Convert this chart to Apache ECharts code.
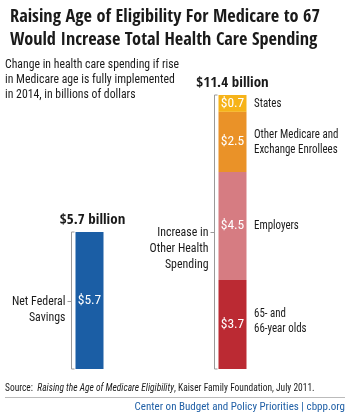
<!DOCTYPE html>
<html>
<head>
<meta charset="utf-8">
<script src="https://cdn.jsdelivr.net/npm/echarts@6/dist/echarts.min.js"></script>
<style>
  html, body { margin: 0; padding: 0; background: #fff; }
  #main { width: 350px; height: 417px; }
</style>
</head>
<body>
<div id="main"></div>
<script>
// data
const categories = ['Net Federal Savings', 'Increase in Other Health Spending'];
const federal = [5.7, '-'];
const olds = ['-', 3.7];
const employers = ['-', 4.5];
const enrollees = ['-', 2.5];
const states = ['-', 0.7];
const totals = ['$5.7 billion', '$11.4 billion'];
const segmentNames = ['65- and\n66-year olds', 'Employers', 'Other Medicare and\nExchange Enrollees', 'States'];
const groupNames = ['Net Federal\nSavings', 'Increase in\nOther Health\nSpending'];

const FONT = '"Roboto Condensed", sans-serif';
const FONT_B = '"Open Sans Condensed", "Roboto Condensed", sans-serif';
const SQ = 0.88; // squeeze regular text toward a condensed face
const barW = 28;

let main = document.getElementById('main');
let myChart = echarts.init(main, null, { renderer: 'canvas' });

const mkSeries = (name, data, color) => ({
  name: name,
  type: 'bar',
  stack: 'total',
  data: data,
  barWidth: barW,
  itemStyle: { color: color },
  label: {
    show: true,
    position: 'inside',
    color: '#fff',
    fontFamily: FONT,
    fontSize: 13.5,
    formatter: p => '$' + p.value.toFixed(1)
  },
  emphasis: { disabled: true },
  animation: false
});

let option = {
  animation: false,
  title: [{
    text: 'Raising Age of Eligibility For Medicare to 67\nWould Increase Total Health Care Spending',
    left: 5,
    top: 1,
    textStyle: { fontFamily: FONT_B, fontSize: 18.3, fontWeight: 'bold', color: '#1a1a1a', lineHeight: 23 }
  }],
  grid: { left: 18, right: 46, top: 95, bottom: 48 },
  xAxis: {
    type: 'category',
    data: categories,
    show: false
  },
  yAxis: {
    type: 'value',
    min: 0,
    max: 11.4,
    show: false
  },
  series: [
    mkSeries('Federal', federal, '#1b5ea5'),
    mkSeries('65- and 66-year olds', olds, '#bb2a33'),
    mkSeries('Employers', employers, '#d67c82'),
    mkSeries('Other Medicare and Exchange Enrollees', enrollees, '#ea9228'),
    mkSeries('States', states, '#f6b319')
  ]
};
myChart.setOption(option);

const txt = (x, y, text, st, sx) => ({
  type: 'text', x: x, y: y, scaleX: sx == null ? SQ : sx,
  style: Object.assign({ text: text, fontFamily: FONT, fontSize: 13, fill: '#1a1a1a', lineHeight: 15 }, st)
});

// annotations placed from the chart's own scales
const px = (ci, v) => myChart.convertToPixel({ gridIndex: 0 }, [ci, v]);
const graphics = [];

graphics.push(txt(5, 57, 'Change in health care spending if rise\nin Medicare age is fully implemented\nin 2014, in billions of dollars',
  { align: 'left', verticalAlign: 'top', fontSize: 13.5 }, 0.87));

const groupTotals = [5.7, 11.4];
[0, 1].forEach(ci => {
  const top = px(ci, groupTotals[ci]);
  const bot = px(ci, 0);
  const left = top[0] - barW / 2;
  const bx = Math.round(left - 5) + 0.5;
  const mid = Math.round((top[1] + bot[1]) / 2) + 0.5;
  graphics.push({
    type: 'polyline',
    shape: { points: [[bx + 3, top[1]], [bx, top[1]], [bx, bot[1]], [bx + 3, bot[1]]] },
    style: { stroke: '#999', lineWidth: 1, fill: null }
  });
  graphics.push({
    type: 'line',
    shape: { x1: bx - 4, y1: mid, x2: bx, y2: mid },
    style: { stroke: '#999', lineWidth: 1 }
  });
  graphics.push(txt(bx - 6, mid - 8, groupNames[ci],
    { align: 'right', verticalAlign: 'top', lineHeight: 16, fontSize: 13.5 }));
  graphics.push({
    type: 'text',
    x: top[0] + (ci === 0 ? 3 : 0), y: top[1] - 4,
    style: {
      text: totals[ci], fontFamily: FONT_B, fontSize: 15, fontWeight: 'bold', fill: '#1a1a1a',
      align: 'center', verticalAlign: 'bottom'
    }
  });
});

// segment names to the right of the stacked bar
const segVals = [olds[1], employers[1], enrollees[1], states[1]];
let cum = 0;
segVals.forEach((v, i) => {
  const p = px(1, cum + v / 2);
  cum += v;
  graphics.push(txt(p[0] + barW / 2 + 7.5, p[1] - (i === 0 ? 3 : 0), segmentNames[i],
    { align: 'left', verticalAlign: 'middle', lineHeight: 15, fontSize: 13 }, 0.84));
});

// source and footer
graphics.push({
  type: 'text', x: 5, y: 388, scaleX: 0.9,
  style: {
    text: '{b|Source:  }{i|Raising the Age of Medicare Eligibility}{b|, Kaiser Family Foundation, July 2011.}',
    verticalAlign: 'middle',
    rich: {
      b: { fontFamily: FONT, fontSize: 10.5, fill: '#1a1a1a' },
      i: { fontFamily: FONT, fontSize: 10.5, fontStyle: 'italic', fill: '#1a1a1a' }
    }
  }
});
graphics.push({
  type: 'line',
  shape: { x1: 5, y1: 397.5, x2: 345, y2: 397.5 },
  style: { stroke: '#bbb', lineWidth: 1 }
});
graphics.push(txt(345, 407, 'Center on Budget and Policy Priorities | cbpp.org',
  { fontSize: 11, fill: '#1f5fa6', align: 'right', verticalAlign: 'middle' }, 1));

myChart.setOption({ graphic: graphics });
window.onresize = function () {
  myChart.resize()
}
</script>
</body>
</html>
